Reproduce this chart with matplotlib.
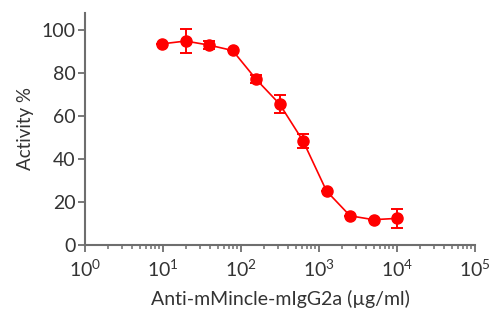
import numpy as np
import matplotlib
matplotlib.use("Agg")
import matplotlib.pyplot as plt
from matplotlib.ticker import LogLocator, FixedLocator

plt.rcParams['font.family'] = ['Lato', 'DejaVu Sans']

# Two-fold dilution series of the antibody
conc = [9.77, 19.5, 39.1, 78.1, 156.3, 312.5, 625, 1250, 2500, 5000, 10000]  # µg/ml
activity = [93.6, 94.9, 93.0, 90.5, 77.1, 65.6, 48.4, 25.1, 13.6, 11.8, 12.4]  # %
err = [0, 5.4, 2.0, 0, 1.8, 4.2, 3.3, 0, 0, 0, 4.3]

axis_col = '#6e6e6e'
text_col = '#333333'
red = '#ff0000'

fig = plt.figure(figsize=(5, 3.22), dpi=100)
ax = fig.add_axes([0.17, 0.239, 0.78, 0.721])

ax.errorbar(conc, activity, yerr=err, color=red, lw=1.2, marker='o', ms=8,
            elinewidth=1.4, capsize=4.5, capthick=1.4, clip_on=False, zorder=3)

ax.set_xscale('log')
ax.set_xlim(1, 1e5)
ax.set_ylim(0, 108)
ax.set_yticks([0, 20, 40, 60, 80, 100])
ax.xaxis.set_major_locator(FixedLocator([1, 10, 100, 1e3, 1e4, 1e5]))
ax.xaxis.set_minor_locator(LogLocator(base=10, subs=np.arange(2, 10), numticks=20))

for s in ['top', 'right']:
    ax.spines[s].set_visible(False)
for s in ['left', 'bottom']:
    ax.spines[s].set_color(axis_col)
    ax.spines[s].set_linewidth(1.5)

ax.tick_params(which='major', direction='out', length=5, width=1.3,
               color=axis_col, labelcolor=text_col, labelsize=14, pad=2)
ax.tick_params(axis='x', which='minor', direction='out', length=3, width=1.1,
               color=axis_col)
ax.tick_params(axis='x', which='major', pad=5)

ax.set_ylabel('Activity %', fontsize=13.5, color=text_col, labelpad=5)
ax.set_xlabel('Anti-mMincle-mIgG2a (µg/ml)', fontsize=14, color=text_col, labelpad=7)

fig.savefig('out.png', dpi=100)
